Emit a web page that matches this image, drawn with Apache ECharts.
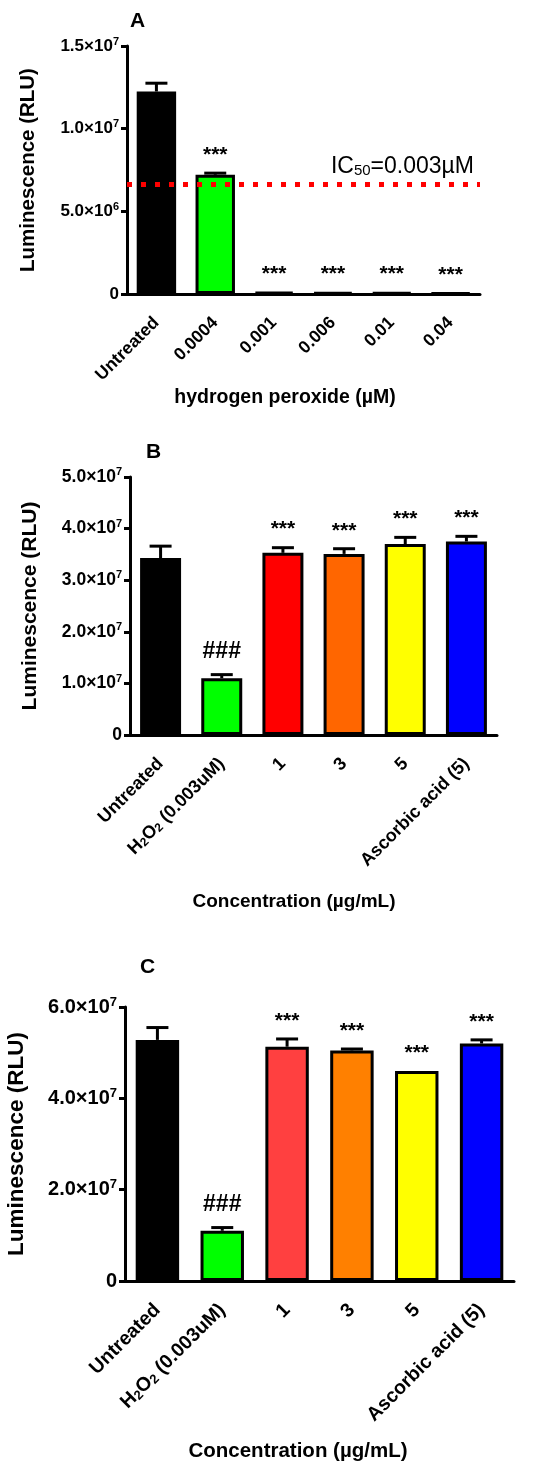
<!DOCTYPE html>
<html>
<head>
<meta charset="utf-8">
<script src="https://cdn.jsdelivr.net/npm/echarts@6/dist/echarts.min.js"></script>
<style>
html, body { margin: 0; padding: 0; background: #fff; }
#chart { width: 550px; height: 1475px; }
</style>
</head>
<body>
<div id="chart"></div>
<script>
// panel A - hydrogen peroxide dose
var catsA = ['Untreated', '0.0004', '0.001', '0.006', '0.01', '0.04'];
var meanA = [1.225e7, 7.21e6, 1.2e5, 1.0e5, 0.8e5, 0.6e5];
var errA = [5.0e5, 1.0e5, 0, 0, 0, 0];
var markA = ['', '***', '***', '***', '***', '***'];
var ic50A = 6.64e6;
var ticksA = [0, 5e6, 1e7, 1.5e7];

// panels B and C share categories
var catsBC = ['Untreated', 'H2O2 (0.003uM)', '1', '3', '5', 'Ascorbic acid (5)'];
var meanB = [3.43e7, 1.10e7, 3.53e7, 3.51e7, 3.70e7, 3.75e7];
var errB = [0.23e7, 0.07e7, 0.10e7, 0.10e7, 0.13e7, 0.10e7];
var markB = ['', '###', '***', '***', '***', '***'];
var ticksB = [0, 1e7, 2e7, 3e7, 4e7, 5e7];

var meanC = [5.28e7, 1.10e7, 5.13e7, 5.05e7, 4.60e7, 5.20e7];
var errC = [0.27e7, 0.07e7, 0.17e7, 0.03e7, 0, 0.08e7];
var markC = ['', '###', '***', '***', '***', '***'];
var ticksC = [0, 2e7, 4e7, 6e7];

var colorsA = ['#000000', '#00ff00', '#000000', '#000000', '#000000', '#000000'];
var colorsB = ['#000000', '#00ff00', '#ff0000', '#ff6600', '#ffff00', '#0000ff'];
var colorsC = ['#000000', '#00ff00', '#ff4040', '#ff8000', '#ffff00', '#0000ff'];

var FONT = 'Liberation Sans, Arial, sans-serif';

var sciLabel = function (v) {
	if (v === 0) return '{b|0}';
	var exp = Math.floor(Math.log10(v) + 1e-9);
	var m = v / Math.pow(10, exp);
	return '{b|' + m.toFixed(1) + '×10}{sup|' + exp + '}';
};

var catLabel = function (v) {
	if (v.indexOf('H2O2') === 0) {
		return '{b|H}{s|2}{b|O}{s|2}{b|' + v.slice(4) + '}';
	}
	return '{b|' + v + '}';
};

// fs: [tick label, axis name]
var makeX = function (idx, cats, name, gap, shift, fs) {
	return {
		type : 'category',
		gridIndex : idx,
		data : cats,
		axisLine : { lineStyle : { color : '#000', width : 3 } },
		axisTick : { alignWithLabel : true, length : 8, lineStyle : { color : '#000', width : 3 } },
		axisLabel : {
			rotate : 45,
			margin : 26,
			interval : 0,
			formatter : catLabel,
			rich : {
				b : { fontFamily : FONT, fontWeight : 'bold', fontSize : fs[0], color : '#000' },
				s : { fontFamily : FONT, fontWeight : 'bold', fontSize : Math.round(fs[0] * 0.68), color : '#000', verticalAlign : 'bottom' }
			}
		},
		name : name,
		nameLocation : 'middle',
		nameGap : gap,
		nameTextStyle : {
			fontFamily : FONT, fontWeight : 'bold', fontSize : fs[1], color : '#000',
			padding : [0, shift, 0, 0]
		}
	};
};

var makeY = function (idx, ticks, gap, fs) {
	return {
		type : 'value',
		gridIndex : idx,
		min : ticks[0],
		max : ticks[ticks.length - 1],
		interval : ticks[1] - ticks[0],
		splitLine : { show : false },
		axisLine : { show : true, lineStyle : { color : '#000', width : 3 } },
		axisTick : { show : true, length : 6, lineStyle : { color : '#000', width : 3 } },
		axisLabel : {
			margin : 8,
			formatter : sciLabel,
			rich : {
				b : { fontFamily : FONT, fontWeight : 'bold', fontSize : fs[0], color : '#000', lineHeight : fs[0] + 3 },
				sup : { fontFamily : FONT, fontWeight : 'bold', fontSize : Math.round(fs[0] * 0.65), color : '#000', verticalAlign : 'top', lineHeight : Math.round(fs[0] * 0.7) }
			}
		},
		name : 'Luminescence (RLU)',
		nameLocation : 'middle',
		nameRotate : 90,
		nameGap : gap,
		nameTextStyle : { fontFamily : FONT, fontWeight : 'bold', fontSize : fs[1], color : '#000' }
	};
};

var makeBars = function (idx, means, colors, extra) {
	var s = {
		type : 'bar',
		xAxisIndex : idx,
		yAxisIndex : idx,
		barWidth : '67%',
		data : means.map(function (v, i) {
			return { value : v, itemStyle : { color : colors[i] } };
		}),
		itemStyle : { borderColor : '#000', borderWidth : 3 }
	};
	if (extra) s.markLine = extra;
	return s;
};

// error bars (upper only) plus significance marks
var makeErr = function (idx, means, errs, marks, fs) {
	return {
		type : 'custom',
		xAxisIndex : idx,
		yAxisIndex : idx,
		z : 5,
		clip : false,
		data : means.map(function (v, i) { return [i, v, errs[i]]; }),
		renderItem : function (params, api) {
			var i = api.value(0), m = api.value(1), e = api.value(2);
			var base = api.coord([i, m]);
			var top = api.coord([i, m + e]);
			var kids = [];
			if (e > 0) {
				kids.push({ type : 'line', shape : { x1 : base[0], y1 : base[1], x2 : top[0], y2 : top[1] },
					style : { stroke : '#000', lineWidth : 3 } });
				kids.push({ type : 'line', shape : { x1 : top[0] - 11, y1 : top[1], x2 : top[0] + 11, y2 : top[1] },
					style : { stroke : '#000', lineWidth : 3 } });
			}
			var mk = marks[params.dataIndex];
			if (mk) {
				var star = mk.charAt(0) === '*';
				kids.push({ type : 'text', style : {
					text : mk, x : top[0], y : top[1] - 23 + (star ? 5 : 0),
					fill : '#000', fontFamily : FONT, fontWeight : 'bold',
					fontSize : star ? fs : fs + 2,
					align : 'center', verticalAlign : 'middle' } });
			}
			return { type : 'group', children : kids };
		}
	};
};

var panelTitle = function (t, x, y) {
	return { type : 'text', left : x, top : y,
		style : { text : t, fontFamily : FONT, fontWeight : 'bold', fontSize : 21, fill : '#000' } };
};

var chart = echarts.init(document.getElementById('chart'));
var option = {
	animation : false,
	graphic : [ panelTitle('A', 130, 11), panelTitle('B', 146, 442), panelTitle('C', 140, 957) ],
	grid : [
		{ left : 127, top : 46, width : 353, height : 248, outerBoundsMode : 'none' },
		{ left : 130, top : 477, width : 367, height : 258, outerBoundsMode : 'none' },
		{ left : 125, top : 1007, width : 389, height : 274, outerBoundsMode : 'none' }
	],
	xAxis : [
		makeX(0, catsA, 'hydrogen peroxide (µM)', 94, 37, [17.5, 19.5]),
		makeX(1, catsBC, 'Concentration (µg/mL)', 157, 39, [18, 19]),
		makeX(2, catsBC, 'Concentration (µg/mL)', 160, 43, [19.5, 20.5])
	],
	yAxis : [
		makeY(0, ticksA, 88, [17, 20.5]),
		makeY(1, ticksB, 89, [17.5, 21]),
		makeY(2, ticksC, 97, [20, 22.5])
	],
	series : [
		makeBars(0, meanA, colorsA, {
			silent : true,
			symbol : 'none',
			lineStyle : { color : '#ff0000', type : [5, 9], width : 5, cap : 'butt' },
			label : {
				position : 'insideEndTop',
				distance : 6,
				formatter : '{n|IC}{s|50}{n|=0.003µM}',
				rich : {
					n : { fontFamily : FONT, fontSize : 23, color : '#000' },
					s : { fontFamily : FONT, fontSize : 15, color : '#000', verticalAlign : 'bottom' }
				}
			},
			data : [ { yAxis : ic50A } ]
		}),
		makeErr(0, meanA, errA, markA, 21),
		makeBars(1, meanB, colorsB),
		makeErr(1, meanB, errB, markB, 21),
		makeBars(2, meanC, colorsC),
		makeErr(2, meanC, errC, markC, 21)
	]
};
chart.setOption(option);
</script>
</body>
</html>
